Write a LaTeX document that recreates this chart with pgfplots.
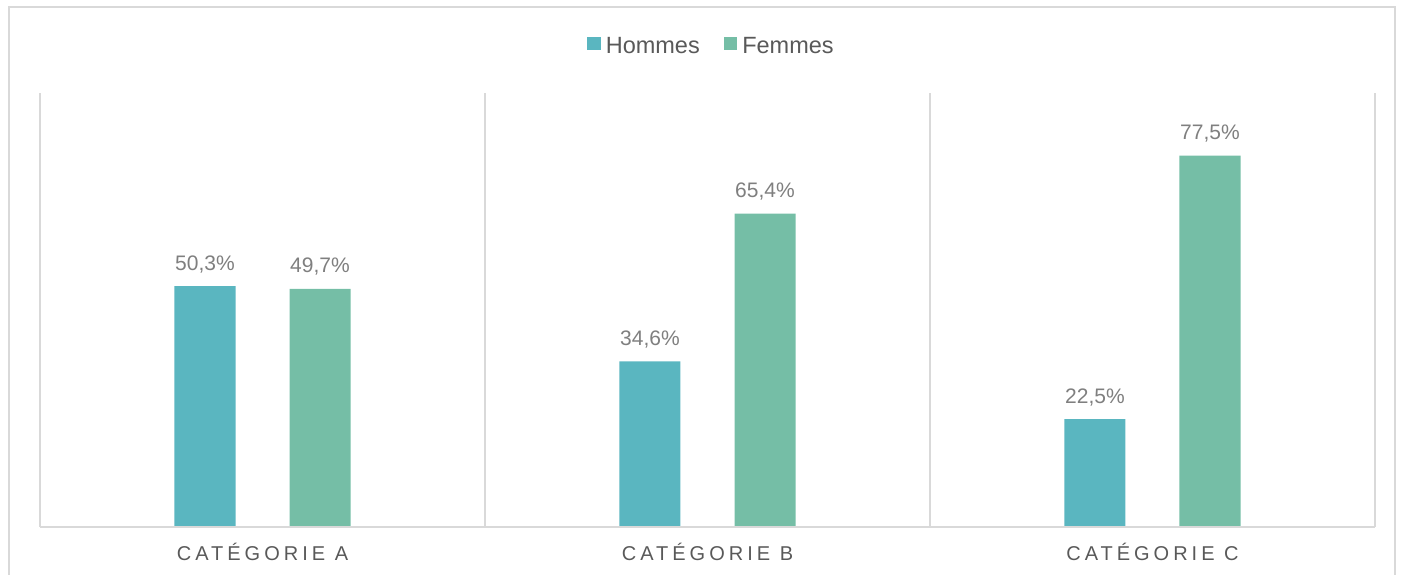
\documentclass[border=0pt]{standalone}
\usepackage{pgfplots}
\pgfplotsset{compat=1.18}
\usepackage{fontspec}
\setmainfont{Liberation Sans}
\newfontfamily\spaced[LetterSpace=20]{Liberation Sans}
\definecolor{hommes}{HTML}{5AB6C0}
\definecolor{femmes}{HTML}{75BEA6}
\definecolor{frame}{HTML}{D9D9D9}
\definecolor{txtdark}{HTML}{595959}
\definecolor{txtlight}{HTML}{7F7F7F}
\begin{document}
\begin{tikzpicture}
\useasboundingbox (0pt,0pt) rectangle (1407pt,575pt);
\draw[frame, line width=1.5pt] (9pt,-20pt) -- (9pt,568pt) -- (1395pt,568pt) -- (1395pt,-20pt);
\begin{axis}[
  at={(40pt,48pt)}, anchor=south west,
  scale only axis, width=1335pt, height=434pt,
  xmin=-0.5, xmax=2.5, ymin=0, ymax=90.6,
  ybar=54pt, bar width=61pt,
  axis line style={draw=none},
  ytick=\empty,
  xtick={0,1,2},
  xticklabels={CATÉGORIE A, CATÉGORIE B, CATÉGORIE C},
  major tick length=0pt,
  xticklabel style={anchor=base, yshift=-34pt, font=\fontsize{20}{24}\spaced, text=txtdark},
  extra x ticks={-0.5,0.5,1.5,2.5},
  extra x tick labels={},
  extra x tick style={grid=major, major grid style={draw=frame, line width=1.3pt}, major tick length=0pt},
  nodes near coords={\pgfmathprintnumber[fixed, fixed zerofill, precision=1, use comma, assume math mode=true]{\pgfplotspointmeta}\%},
  every node near coord/.append style={anchor=base, yshift=16pt, font=\fontsize{21}{25}\selectfont, text=txtlight},
  legend columns=2,
  legend style={draw=none, fill=none, inner sep=0pt, at={(axis description cs:0.5,1)}, anchor=south, xshift=5.5pt, yshift=36pt,
    font=\fontsize{23.5}{28}\selectfont, text=txtdark,
    nodes={inner xsep=5pt},
    /tikz/every even column/.append style={column sep=19pt}},
  legend image code/.code={\fill[#1] (0pt,-4.5pt) rectangle (13.5pt,9pt);},
  clip=false,
]
\addplot[fill=hommes, draw=none] coordinates {(0,50.3) (1,34.6) (2,22.5)};
\addlegendentry{Hommes}
\addplot[fill=femmes, draw=none] coordinates {(0,49.7) (1,65.4) (2,77.5)};
\addlegendentry{Femmes}
\draw[frame, line width=1.5pt] (rel axis cs:0,0) -- (rel axis cs:1,0);
\end{axis}
\end{tikzpicture}
\end{document}
